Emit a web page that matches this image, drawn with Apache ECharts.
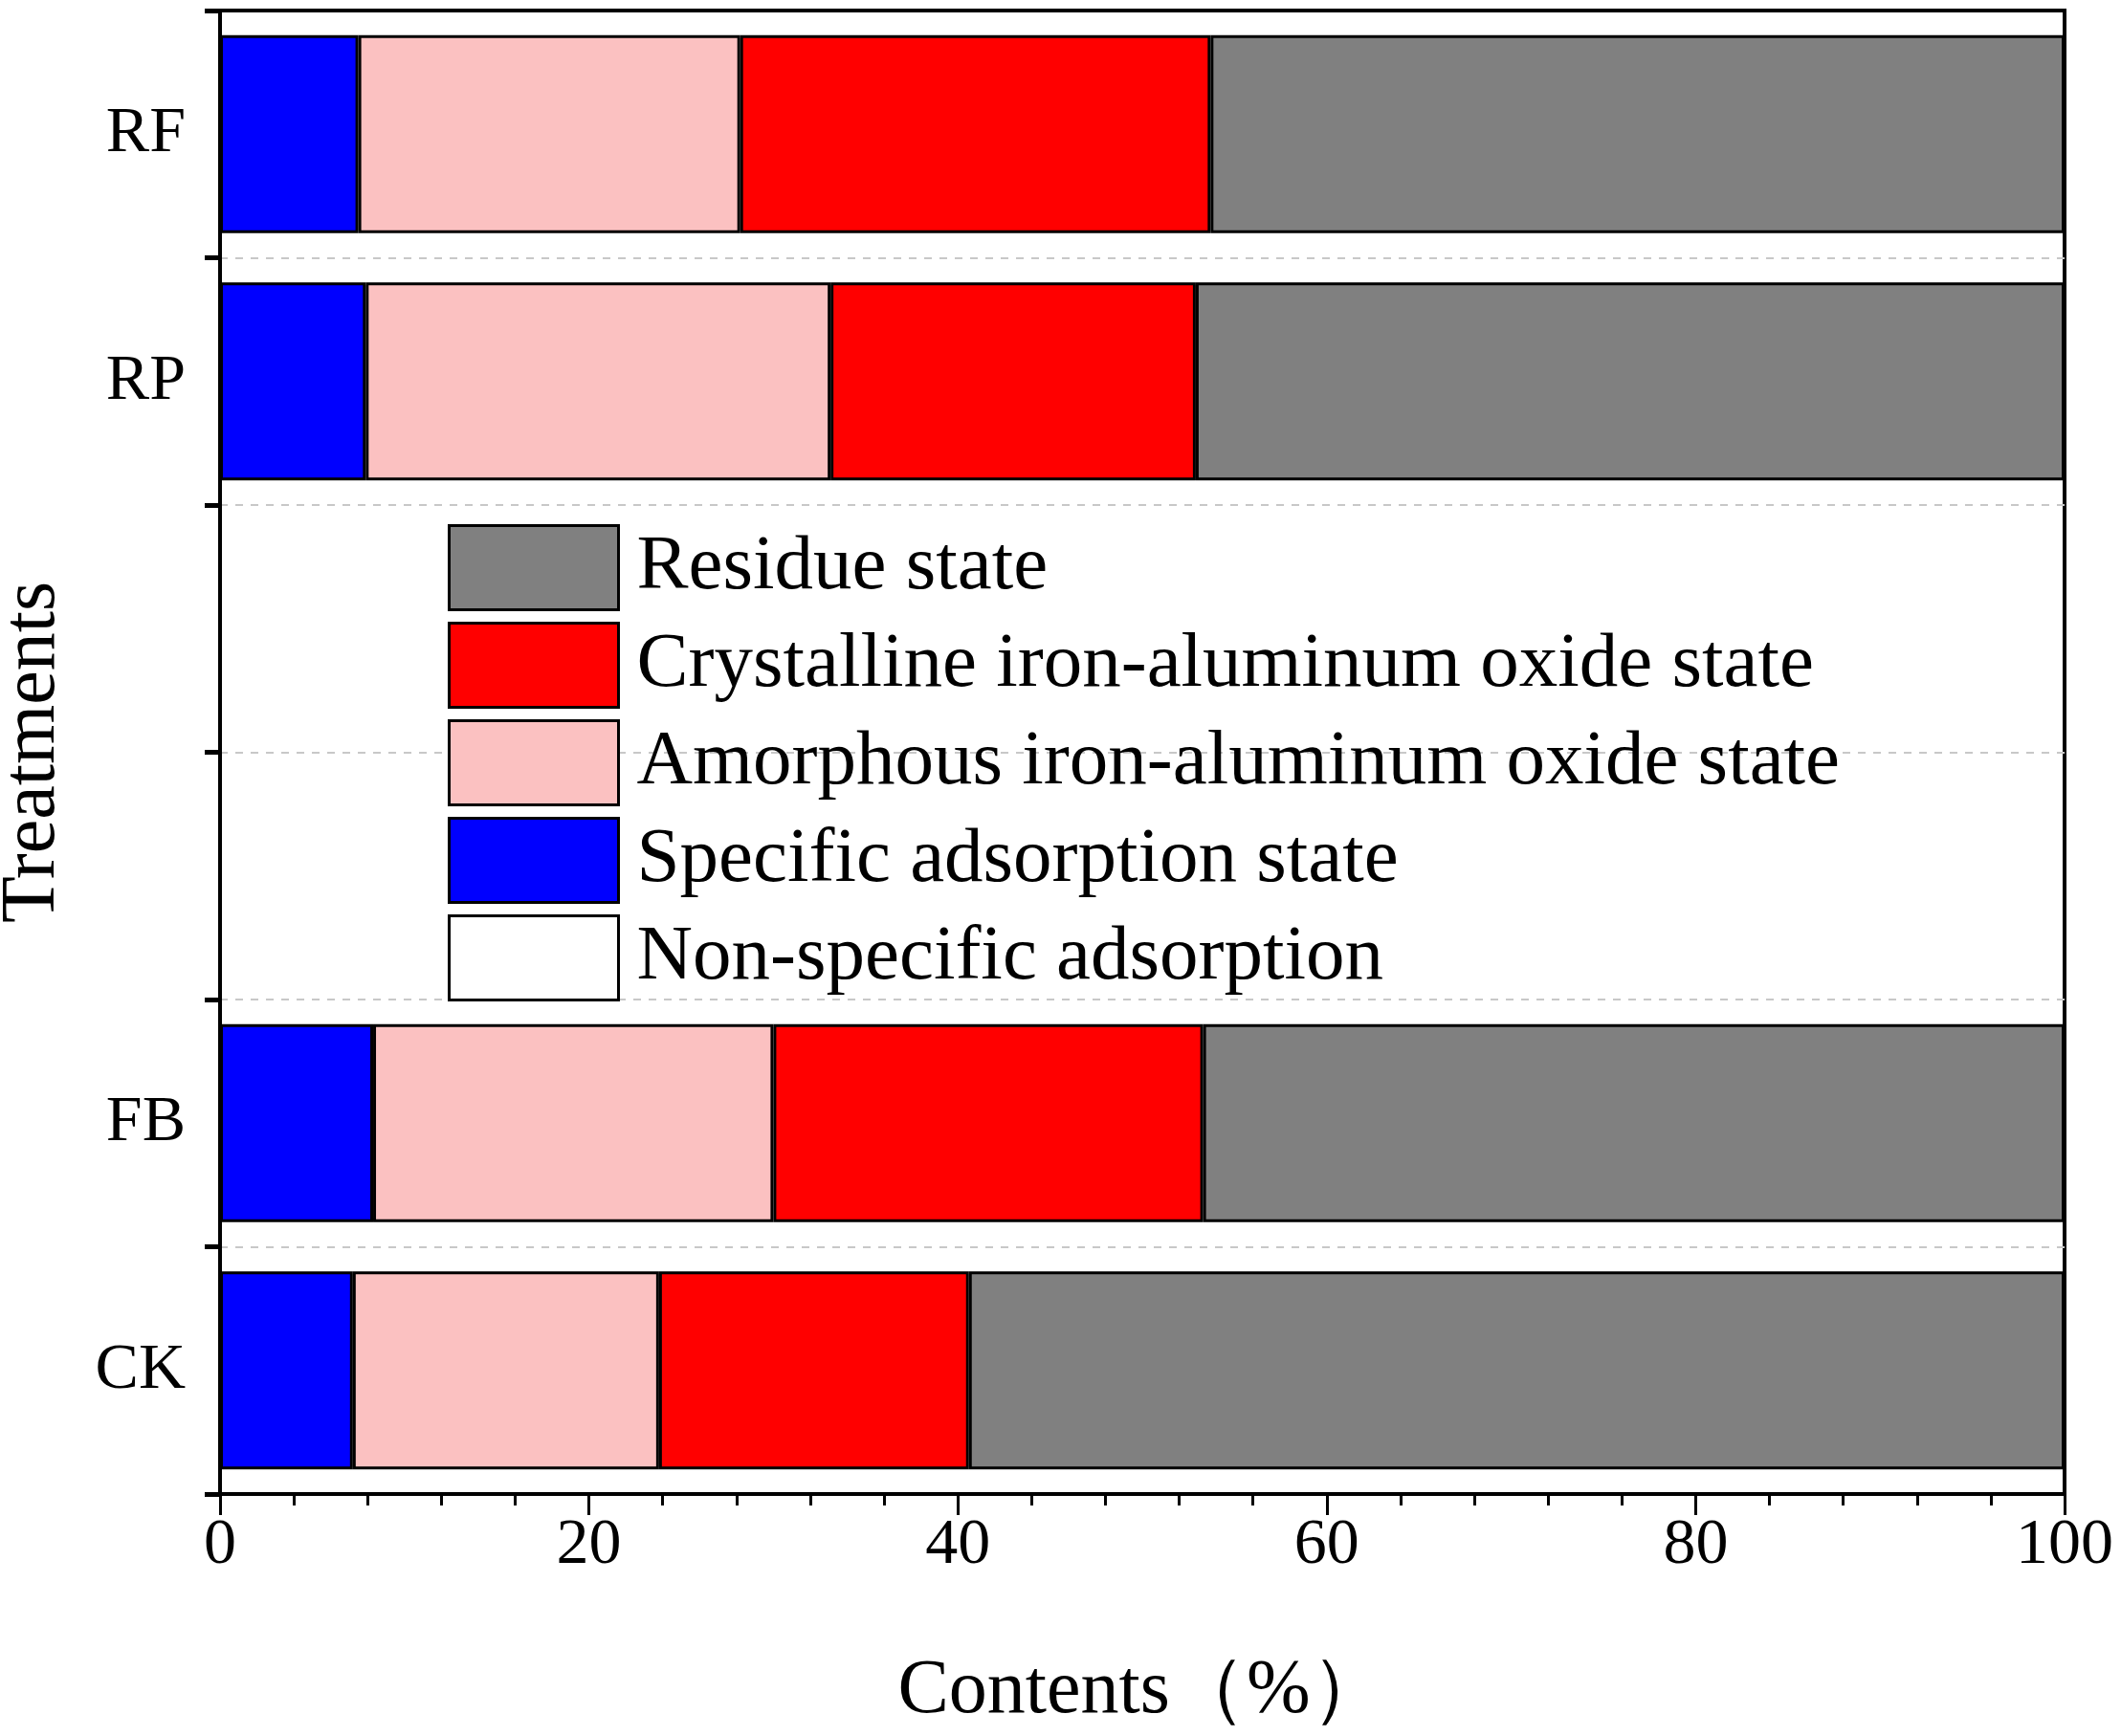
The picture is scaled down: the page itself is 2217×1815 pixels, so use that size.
<!DOCTYPE html>
<html>
<head>
<meta charset="utf-8">
<script src="https://cdn.jsdelivr.net/npm/echarts@6/dist/echarts.min.js"></script>
<style>html,body{margin:0;padding:0;background:#fff;}#c{width:2217px;height:1815px;}</style>
</head>
<body>
<div id="c"></div>
<script>
// Categories from bottom to top (two empty slots hold the legend)
const categories = ['CK', 'FB', ' ', '  ', 'RP', 'RF'];
const nonSpecific = [0, 0, null, null, 0, 0];
const specific    = [7.2, 8.3, null, null, 7.9, 7.5];
const amorphous   = [16.6, 21.7, null, null, 25.2, 20.7];
const crystalline = [16.8, 23.3, null, null, 19.8, 25.5];
const residue     = [59.4, 46.7, null, null, 47.1, 46.3];
const xTicks = [0, 20, 40, 60, 80, 100];

const seriesNames = ['Non-specific adsorption', 'Specific adsorption state', 'Amorphous iron-aluminum oxide state', 'Crystalline iron-aluminum oxide state', 'Residue state'];
const seriesData = [nonSpecific, specific, amorphous, crystalline, residue];
const colors = ['#FFFFFF', '#0000FF', '#FBC1C1', '#FF0000', '#808080'];

const FONT = 'Liberation Serif';
const chart = echarts.init(document.getElementById('c'));
chart.setOption({
  animation: false,
  backgroundColor: '#fff',
  grid: { left: 230, right: 59, top: 11, bottom: 253, show: true, borderColor: '#000', borderWidth: 4,
          backgroundColor: 'transparent', containLabel: false, outerBoundsMode: 'none' },
  legend: {
    orient: 'vertical', left: 463, top: 543,
    data: seriesNames.slice().reverse(),
    itemWidth: 177, itemHeight: 88, itemGap: 11,
    icon: 'rect',
    itemStyle: { borderColor: '#000', borderWidth: 3 },
    textStyle: { fontFamily: FONT, fontSize: 81, lineHeight: 88, color: '#000', padding: [0, 0, 0, 14] }
  },
  xAxis: [{
    type: 'value', min: 0, max: 100, interval: 20,
    name: 'Contents（%）', nameLocation: 'middle', nameGap: 167,
    nameTextStyle: { fontFamily: FONT, fontSize: 80, color: '#000' },
    axisLine: { show: true, lineStyle: { color: '#000', width: 4 } },
    axisTick: { show: true, length: 22, lineStyle: { color: '#000', width: 3 } },
    minorTick: { show: true, splitNumber: 5, length: 12, lineStyle: { color: '#000', width: 3 } },
    splitLine: { show: false },
    axisLabel: { fontFamily: FONT, fontSize: 68, color: '#000', margin: 20,
      formatter: v => xTicks.includes(v) ? String(v) : '' }
  }, {
    type: 'value', min: 0, max: 100, interval: 20, position: 'top', z: 5,
    axisLine: { show: true, lineStyle: { color: '#000', width: 4 } },
    axisTick: { show: false }, axisLabel: { show: false }, splitLine: { show: false }
  }],
  yAxis: [{
    type: 'category', data: categories,
    name: 'Treatments', nameLocation: 'middle', nameGap: 155,
    nameTextStyle: { fontFamily: FONT, fontSize: 80, color: '#000' },
    axisLine: { show: true, lineStyle: { color: '#000', width: 4 } },
    axisTick: { show: true, length: 16, lineStyle: { color: '#000', width: 5 } },
    splitLine: { show: true, lineStyle: { color: '#c8c8c8', type: [8, 8], width: 2 } },
    axisLabel: { fontFamily: FONT, fontSize: 68, color: '#000', margin: 36 }
  }, {
    type: 'category', data: categories, position: 'right', z: 5,
    axisLine: { show: true, lineStyle: { color: '#000', width: 4 } },
    axisTick: { show: false }, axisLabel: { show: false }, splitLine: { show: false }
  }],
  series: seriesNames.map((n, i) => ({
    name: n, type: 'bar', stack: 'total', barWidth: '80%',
    data: seriesData[i],
    itemStyle: { color: colors[i], borderColor: '#000', borderWidth: 3 }
  }))
});
</script>
</body>
</html>
